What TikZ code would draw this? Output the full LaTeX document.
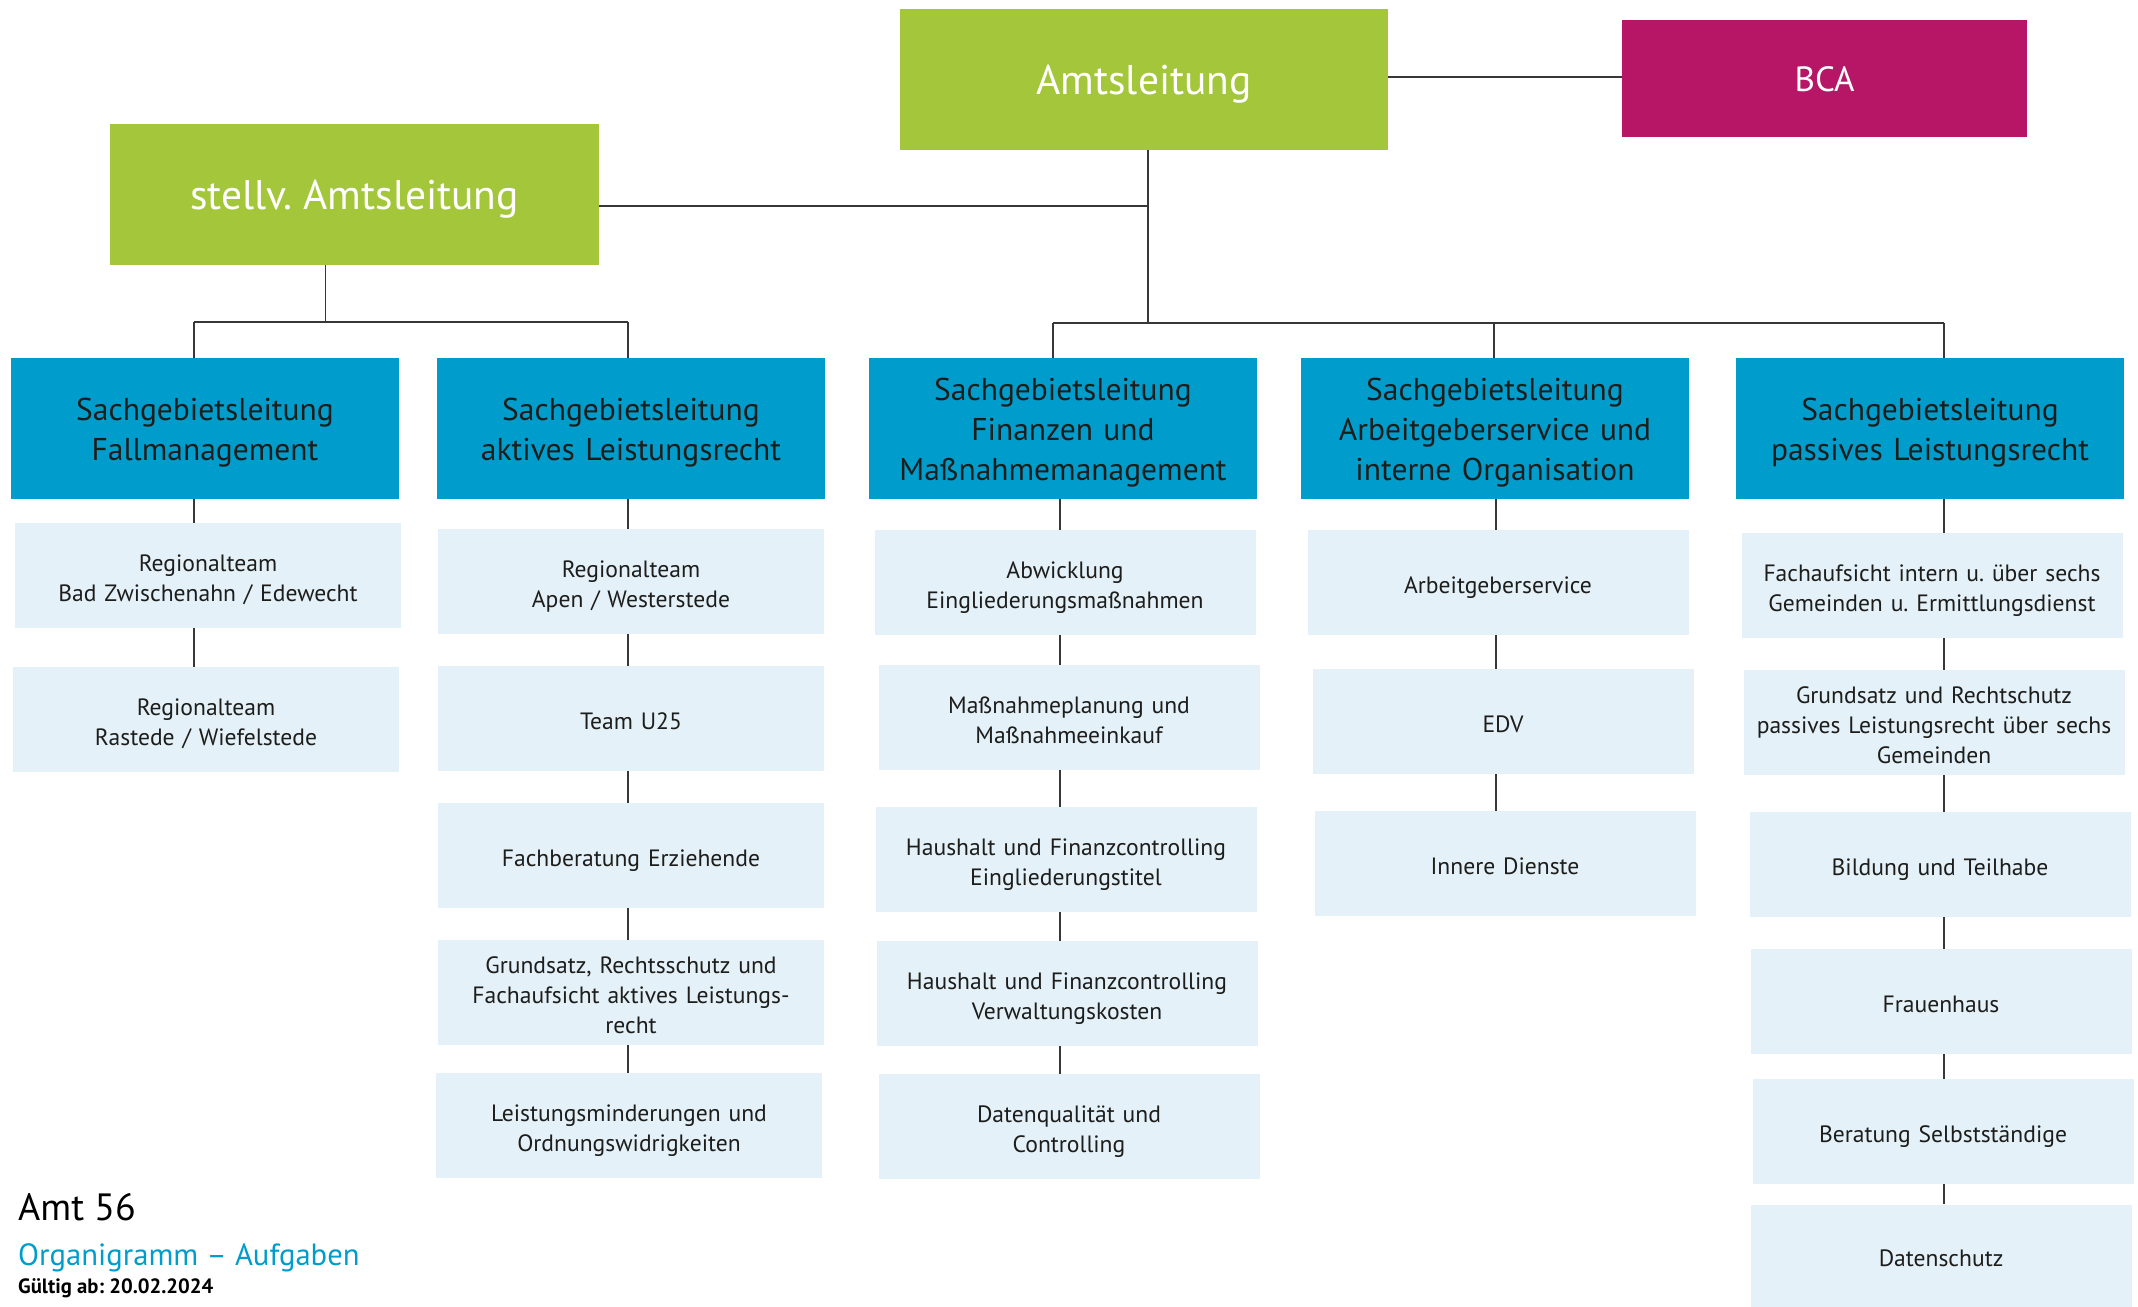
\documentclass[tikz,border=0pt]{standalone}
\usepackage{fontspec}
\setmainfont{PT Sans}
\usepackage{xcolor}
\usepackage{tikz}
\frenchspacing
\definecolor{leadgreen}{RGB}{163,198,59}
\definecolor{bcapink}{RGB}{183,21,102}
\definecolor{secblue}{RGB}{0,157,204}
\definecolor{teamblue}{RGB}{228,241,248}
\definecolor{textdark}{RGB}{29,29,27}
\definecolor{linegray}{RGB}{55,55,55}
% strut: height #1 above, depth #2 below the baseline
\newcommand{\boxstrut}[2]{\rule[-#2]{0pt}{\dimexpr#1+#2\relax}}
\tikzstyle{lead} = [rectangle, fill=leadgreen, text=white, minimum width=488pt, minimum height=140pt, inner sep=0pt, font=\fontsize{41.5}{48}\selectfont, execute at begin node={\boxstrut{40pt}{10pt}}]
\tikzstyle{staff} = [rectangle, fill=bcapink, text=white, minimum width=405pt, minimum height=117pt, inner sep=0pt, font=\fontsize{35}{40}\selectfont, execute at begin node={\boxstrut{33pt}{8pt}}]
\tikzstyle{section} = [rectangle, fill=secblue, text=textdark, minimum width=388pt, minimum height=141pt, inner sep=0pt, text width=380pt, align=center, font=\fontsize{31.5}{40}\selectfont, execute at begin node={\boxstrut{31pt}{0pt}}, execute at end node={\boxstrut{0pt}{8pt}}]
\tikzstyle{team} = [rectangle, fill=teamblue, text=textdark, minimum width=383pt, minimum height=105pt, inner sep=0pt, text width=372pt, align=center, font=\fontsize{23.6}{30}\selectfont, execute at begin node={\boxstrut{28pt}{0pt}}, execute at end node={\boxstrut{0pt}{7pt}}]
\tikzstyle{link} = [draw=linegray, line width=1.6pt]
\tikzstyle{bus} = [draw=linegray, line width=2.2pt]

\begin{document}
\begin{tikzpicture}[x=1pt, y=-1pt, node distance=137pt]
\useasboundingbox (0,0) rectangle (2138,1306);

% leitung
\node (amt) [lead] at (1144,79.5) {Amtsleitung};
\node (stv) [lead, minimum width=489pt, minimum height=141pt] at (354.5,194.5) {stellv. Amtsleitung};
\node (bca) [staff] at (1824.5,78.5) {BCA};

% sachgebiete
\node (sg1) [section] at (205,428.5) {Sachgebietsleitung\\Fallmanagement};
\node (sg2) [section] at (631,428.5) {Sachgebietsleitung\\aktives Leistungsrecht};
\node (sg3) [section] at (1063,428.5) {Sachgebietsleitung\\Finanzen und\\Maßnahmemanagement};
\node (sg4) [section] at (1495,428.5) {Sachgebietsleitung\\Arbeitgeberservice und\\interne Organisation};
\node (sg5) [section] at (1930,428.5) {Sachgebietsleitung\\passives Leistungsrecht};

% fallmanagement
\node (t11) [team, below of=sg1, yshift=-10pt, xshift=3pt, minimum width=386pt] {Regionalteam\\Bad Zwischenahn / Edewecht};
\node (t12) [team, below of=t11, yshift=-7pt, xshift=-2pt, minimum width=386pt] {Regionalteam\\Rastede / Wiefelstede};

% aktives leistungsrecht
\node (t21) [team, below of=sg2, yshift=-16pt, minimum width=386pt] {Regionalteam\\Apen / Westerstede};
\node (t22) [team, below of=t21, minimum width=386pt] {Team U25};
\node (t23) [team, below of=t22, minimum width=386pt] {Fachberatung Erziehende};
\node (t24) [team, below of=t23, minimum width=386pt] {Grundsatz, Rechtsschutz und\\Fachaufsicht aktives Leistungs-\\recht};
\node (t25) [team, below of=t24, yshift=4pt, xshift=-2pt, minimum width=386pt] {Leistungsminderungen und\\Ordnungswidrigkeiten};

% finanzen
\node (t31) [team, below of=sg3, yshift=-17pt, xshift=2pt, minimum width=381pt] {Abwicklung\\Eingliederungsmaßnahmen};
\node (t32) [team, below of=t31, yshift=2pt, xshift=4pt, minimum width=381pt] {Maßnahmeplanung und\\Maßnahmeeinkauf};
\node (t33) [team, below of=t32, yshift=-5pt, xshift=-3pt, minimum width=381pt] {Haushalt und Finanzcontrolling\\Eingliederungstitel};
\node (t34) [team, below of=t33, yshift=3pt, xshift=1pt, minimum width=381pt] {Haushalt und Finanzcontrolling\\Verwaltungskosten};
\node (t35) [team, below of=t34, yshift=4pt, xshift=2pt, minimum width=381pt] {Datenqualität und\\Controlling};

% arbeitgeberservice
\node (t41) [team, below of=sg4, yshift=-17pt, xshift=3pt, minimum width=381pt] {Arbeitgeberservice};
\node (t42) [team, below of=t41, yshift=-2pt, xshift=5pt, minimum width=381pt] {EDV};
\node (t43) [team, below of=t42, yshift=-5pt, xshift=2pt, minimum width=381pt] {Innere Dienste};

% passives leistungsrecht
\node (t51) [team, below of=sg5, yshift=-20pt, xshift=2pt, minimum width=381pt] {Fachaufsicht intern u. über sechs\\Gemeinden u. Ermittlungsdienst};
\node (t52) [team, below of=t51, xshift=2pt, minimum width=381pt] {Grundsatz und Rechtschutz\\passives Leistungsrecht über sechs\\Gemeinden};
\node (t53) [team, below of=t52, yshift=-5pt, xshift=6pt, minimum width=381pt] {Bildung und Teilhabe};
\node (t54) [team, below of=t53, xshift=1pt, minimum width=381pt] {Frauenhaus};
\node (t55) [team, below of=t54, yshift=7pt, xshift=2pt, minimum width=381pt] {Beratung Selbstständige};
\node (t56) [team, below of=t55, yshift=13pt, xshift=-2pt, minimum width=381pt, minimum height=102pt] {Datenschutz};

% titel
\node (amtnr) [anchor=base west, inner sep=0pt, font=\fontsize{38}{44}\selectfont] at (18,1220) {Amt 56};
\node (titel) [anchor=base west, inner sep=0pt, text=secblue, font=\fontsize{30.7}{36}\selectfont] at (18,1265) {Organigramm – Aufgaben};
\node (datum) [anchor=base west, inner sep=0pt, font=\bfseries\fontsize{20.7}{24}\selectfont] at (18,1293) {Gültig ab: 20.02.2024};

% hilfspunkte
\coordinate (sx) at (325.5,0);
\coordinate (ax) at (1148,0);
\coordinate (jn) at (1148,206);
\coordinate (bk) at (0,77);
\coordinate (lbus) at (0,322);
\coordinate (rbus) at (0,323);
\coordinate (d1) at (194,0);
\coordinate (d2) at (628,0);
\coordinate (d3) at (1053,0);
\coordinate (d4) at (1494,0);
\coordinate (d5) at (1944,0);
\coordinate (c3) at (1060,0);
\coordinate (c4) at (1496,0);

\draw [bus] (amt.east |- bk) -- (bca.west |- bk);
\draw [bus] (stv.east |- jn) -- (jn);
\draw [link] (amt.south -| ax) -- (rbus -| ax);
\draw [link] (stv.south -| sx) -- (lbus -| sx);
\draw [bus] (lbus -| d1) -- (lbus -| d2);
\draw [link] (lbus -| d1) -- (sg1.north -| d1);
\draw [link] (lbus -| d2) -- (sg2.north -| d2);
\draw [bus] (rbus -| d3) -- (rbus -| d5);
\draw [link] (rbus -| d3) -- (sg3.north -| d3);
\draw [link] (rbus -| d4) -- (sg4.north -| d4);
\draw [link] (rbus -| d5) -- (sg5.north -| d5);

\draw [link] (sg1.south -| d1) -- (t11.north -| d1) (t11.south -| d1) -- (t12.north -| d1);
\draw [link] (sg2.south -| d2) -- (t21.north -| d2) (t21.south -| d2) -- (t22.north -| d2) (t22.south -| d2) -- (t23.north -| d2) (t23.south -| d2) -- (t24.north -| d2) (t24.south -| d2) -- (t25.north -| d2);
\draw [link] (sg3.south -| c3) -- (t31.north -| c3) (t31.south -| c3) -- (t32.north -| c3) (t32.south -| c3) -- (t33.north -| c3) (t33.south -| c3) -- (t34.north -| c3) (t34.south -| c3) -- (t35.north -| c3);
\draw [link] (sg4.south -| c4) -- (t41.north -| c4) (t41.south -| c4) -- (t42.north -| c4) (t42.south -| c4) -- (t43.north -| c4);
\draw [link] (sg5.south -| d5) -- (t51.north -| d5) (t51.south -| d5) -- (t52.north -| d5) (t52.south -| d5) -- (t53.north -| d5) (t53.south -| d5) -- (t54.north -| d5) (t54.south -| d5) -- (t55.north -| d5) (t55.south -| d5) -- (t56.north -| d5);

\end{tikzpicture}
\end{document}
